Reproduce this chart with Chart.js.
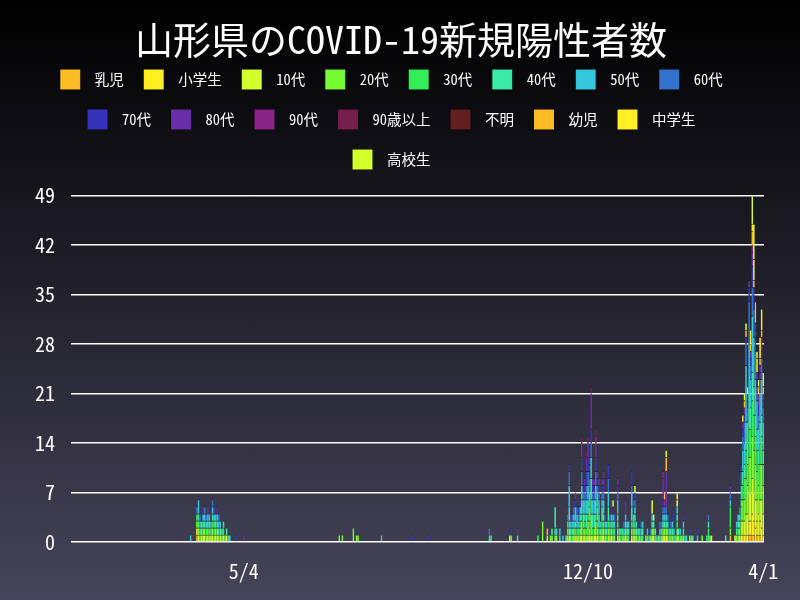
<!DOCTYPE html>
<html>
<head>
  <title>山形県のCOVID-19新規陽性者数</title>
  <style>
    body {
      margin: 0;
      padding: 0;
      background: linear-gradient(to bottom, #000000, #46445a);
    }

    #wrap {
      width: 800px;
      height: 600px;
    }
  </style>
</head>
<body>

  <div id="wrap">
    <canvas id="graph"></canvas>
  </div>

  <script src="https://cdn.jsdelivr.net/npm/chart.js"></script>
  <script>
    // days run from 2020-01-15 to 2021-04-01, one bar per day
    const startDate = new Date(2020, 0, 15);
    const dayCount = 443;
    const shownTicks = ['2020-05-04', '2020-12-10', '2021-04-01'];

    const seriesNames = ['乳児', '小学生', '10代', '20代', '30代', '40代', '50代', '60代',
      '70代', '80代', '90代', '90歳以上', '不明', '幼児', '中学生', '高校生'];
    const seriesColors = ['#ffbb22', '#ffee22', '#d5ff2a', '#77fc33', '#33ee55', '#3ceaa8',
      '#33c8dd', '#3372cc', '#3633bb', '#6a2eaa', '#8a2488', '#761f4e', '#641f1f',
      '#ffbb22', '#ffee22', '#d5ff2a'];

    // [day index, new cases]
    const infant = [[80,1],[421,1],[433,1],[434,1],[435,1],[436,1],[438,1],[440,1]];
    const elementary = [[80,1],[429,1],[430,1],[431,1],[432,1],[433,2],[434,2],[435,3],[436,2],[437,2],[438,2],[439,1],[440,2],[441,2],[442,1]];
    const teens = [[81,1],[83,1],[84,1],[85,1],[87,1],[89,1],[90,1],[92,1],[93,1],[95,1],[97,1],[99,1],[280,1],
      [304,1],[318,1],[321,1],[323,1],[325,1],[326,1],[328,1],[330,1],[331,1],[332,1],[334,1],[335,1],[336,1],
      [339,1],[340,1],[343,1],[345,1],[349,1],[354,1],[358,1],[360,1],[371,1],[372,1],[378,1],[379,1],[380,1],[387,1],
      [424,1],[427,1],[428,1],[429,2],[430,2],[431,3],[432,3],[433,4],[434,4],[435,5],[436,4],[437,4],[438,3],[439,3],[440,3],[441,4],[442,3]];
    const twenties = [[80,1],[81,1],[82,1],[83,1],[84,1],[85,1],[86,1],[87,1],[88,1],[90,1],[91,1],[92,1],[93,1],[94,1],[96,1],[98,1],
      [171,1],[173,1],[180,2],[182,1],[183,1],
      [301,3],[306,1],[307,1],[309,1],[310,1],[317,1],[318,1],[319,1],[321,1],[322,1],[324,1],[325,1],[326,2],[327,1],[328,1],
      [329,1],[330,2],[331,1],[332,3],[333,1],[334,1],[335,2],[336,1],[337,1],[338,1],[339,1],[340,1],[341,1],[343,1],[344,1],
      [345,1],[346,1],[347,1],[349,1],[350,1],[352,1],[353,1],[354,1],[355,1],[358,1],[359,1],[360,1],[361,1],[363,1],[367,1],
      [370,1],[371,1],[372,1],[375,1],[378,1],[379,1],[380,1],[381,1],[383,1],[384,1],[387,1],[388,1],[390,1],[391,1],[395,1],
      [403,1],[408,1],
      [421,1],[425,1],[426,1],[427,1],[428,2],[429,3],[430,3],[431,5],[432,4],[433,5],[434,5],[435,6],[436,6],[437,5],[438,4],[439,4],[440,5],[441,5],[442,4]];
    const thirties = [[80,1],[81,1],[84,1],[86,1],[88,1],[90,1],[91,1],[93,1],[97,1],[267,1],
      [298,1],[309,1],[318,1],[320,1],[322,1],[323,1],[325,1],[326,1],[327,1],[328,1],[329,1],[330,1],[331,1],[332,2],[333,1],
      [335,1],[336,1],[337,1],[339,1],[340,1],[342,1],[343,1],[345,1],[346,1],[349,1],[351,1],[356,1],[358,1],[360,1],[362,1],
      [365,1],[373,1],[382,1],[386,1],[387,1],[389,1],[396,1],[407,2],
      [421,3],[426,1],[428,2],[429,2],[430,3],[431,4],[432,3],[433,4],[434,4],[435,5],[436,5],[437,4],[438,3],[439,3],[440,3],[441,4],[442,3]];
    const forties = [[81,1],[82,1],[83,1],[85,1],[87,1],[88,1],[89,1],[90,1],[91,1],[92,1],[94,1],[95,1],[96,1],[97,1],[99,1],[101,1],
      [268,1],[281,1],[285,1],
      [307,1],[309,3],[312,1],[316,1],[317,1],[318,2],[319,1],[320,1],[321,1],[322,1],[324,1],[325,1],[326,2],[327,2],[328,1],
      [329,2],[330,2],[331,2],[332,3],[333,2],[334,2],[335,2],[336,2],[337,2],[338,1],[339,2],[340,1],[341,1],[342,1],[343,2],
      [344,1],[346,1],[347,1],[349,1],[351,1],[352,1],[354,1],[355,1],[356,1],[358,2],[359,1],[360,1],[361,1],[362,1],[364,1],
      [365,1],[368,1],[371,1],[372,1],[373,1],[376,1],[377,1],[378,1],[379,1],[380,1],[381,1],[383,1],[384,1],[385,1],[387,1],
      [388,1],[391,1],[393,1],[397,1],[406,1],[407,1],
      [418,1],[425,1],[426,1],[427,1],[428,1],[429,2],[430,2],[431,4],[432,3],[433,5],[434,3],[435,4],[436,4],[437,3],[438,3],[439,2],[440,3],[441,3],[442,2]];
    const fifties = [[76,1],[81,2],[82,1],[84,1],[85,1],[86,1],[87,1],[88,1],[89,1],[90,1],[91,1],[92,1],[93,1],[94,1],[95,1],[100,1],
      [198,1],
      [310,1],[312,1],[314,1],[317,1],[318,3],[319,1],[320,1],[321,1],[322,2],[323,2],[324,1],[325,1],[326,2],[327,2],[328,2],
      [329,2],[330,2],[331,2],[332,3],[333,2],[334,2],[335,2],[336,2],[337,2],[338,1],[339,1],[340,2],[341,1],[342,1],[343,2],
      [344,1],[345,1],[346,1],[347,1],[349,2],[350,1],[353,1],[354,1],[355,1],[356,1],[358,2],[359,2],[360,1],[361,1],[363,1],
      [364,1],[365,1],[368,1],[369,1],[371,1],[374,1],[376,1],[377,1],[378,1],[379,1],[380,1],[381,1],[382,1],[384,1],[385,1],
      [387,1],[389,1],[391,1],[392,1],[400,1],
      [421,1],[425,1],[426,1],[427,1],[428,2],[429,3],[430,3],[431,8],[432,3],[433,7],[434,4],[435,8],[436,7],[437,5],[438,4],[439,3],[440,4],[441,5],[442,4]];
    const sixties = [[80,1],[82,1],[85,1],[86,1],[90,1],[94,1],[267,1],
      [317,1],[318,2],[320,1],[321,1],[323,1],[324,1],[326,2],[327,1],[328,1],[329,2],[330,2],[331,2],[332,2],[333,1],[334,1],
      [335,2],[336,1],[337,1],[339,1],[340,1],[343,2],[344,1],[347,1],[349,1],[353,1],[358,1],[360,1],[364,1],[370,1],[376,1],
      [377,1],[378,1],[379,1],[380,1],[381,1],[383,1],[407,1],
      [421,1],[427,1],[428,2],[429,2],[430,3],[431,3],[432,2],[433,6],[434,2],[435,4],[436,4],[437,4],[438,2],[439,2],[440,2],[441,3],[442,2]];
    const seventies = [[93,1],[105,1],[218,1],[228,1],[281,1],
      [317,1],[318,1],[321,1],[322,1],[324,1],[325,1],[326,2],[327,1],[328,1],[329,2],[330,2],[331,1],[332,2],[333,1],[334,1],
      [335,2],[336,1],[337,1],[339,1],[340,1],[343,2],[345,1],[349,1],[358,2],[359,1],[360,1],[378,1],[384,1],[391,1],[396,1],[400,1],
      [428,1],[429,1],[430,1],[431,1],[432,1],[433,2],[434,1],[435,3],[436,2],[437,2],[438,1],[439,1],[440,1],[441,1],[442,1]];
    const eighties = [[84,1],[87,1],[91,1],[110,1],[285,1],
      [319,1],[322,1],[326,2],[328,1],[329,2],[330,2],[331,1],[332,5],[333,1],[334,1],[335,2],[336,1],[337,1],[339,1],[340,1],
      [341,1],[345,1],[349,1],[354,2],[359,1],[378,3],[380,5],
      [421,1],[429,1],[430,1],[432,1],[433,1],[434,1],[435,2],[436,1],[437,1],[438,1],[439,1],[440,1],[441,1],[442,1]];
    const nineties = [[331,1],[335,1],[340,1],[378,1],[379,1],[435,1],[437,1],[439,1],[441,1]];
    const over90 = [[326,1],[329,1],[330,1],[332,1],[335,1],[346,1]];
    const unknown = [];
    const toddler = [[304,1],[379,1],[380,2],[430,1],[431,1],[434,1],[435,2],[436,1],[437,3],[439,1],[440,1],[441,1],[442,1]];
    const juniorHigh = [[387,1],[409,1],[429,1],[432,1],[434,2],[435,1],[436,3],[438,2],[439,1],[440,3],[441,3],[442,2]];
    const highSchool = [[346,1],[360,1],[371,2],[372,1],[380,1],[387,1],[430,1],[431,1],[435,4],[436,5],[438,1]];

    const seriesData = [infant, elementary, teens, twenties, thirties, forties, fifties, sixties,
      seventies, eighties, nineties, over90, unknown, toddler, juniorHigh, highSchool];

    // category labels (M/D) and the full date of each bar
    const labels = [];
    const isoDates = [];
    for (let i = 0; i < dayCount; i++) {
      const d = new Date(startDate.getFullYear(), startDate.getMonth(), startDate.getDate() + i);
      const m = d.getMonth() + 1;
      const day = d.getDate();
      labels.push(m + '/' + day);
      isoDates.push(d.getFullYear() + '-' + String(m).padStart(2, '0') + '-' + String(day).padStart(2, '0'));
    }

    const datasets = seriesNames.map((name, s) => {
      const values = new Array(dayCount).fill(null);
      seriesData[s].forEach(([day, n]) => { values[day] = n; });
      return {
        label: name,
        data: values,
        backgroundColor: seriesColors[s],
        borderColor: 'rgba(0, 0, 0, 0.35)',
        borderWidth: { top: 1, bottom: 0, left: 0, right: 0 },
        categoryPercentage: 1,
        barPercentage: 1
      };
    });

    // leave a gap under the legend
    const legendGap = {
      id: 'legendGap',
      beforeInit(chart) {
        const fit = chart.legend.fit;
        chart.legend.fit = function () {
          fit.bind(chart.legend)();
          this.height += 16;
        };
      }
    };

    Chart.defaults.font.family = "'Noto Sans Mono CJK JP', 'Noto Sans CJK JP', monospace";
    Chart.defaults.color = '#ffffff';

    const ctx = document.getElementById('graph').getContext('2d');
    new Chart(ctx, {
      type: 'bar',
      data: { labels: labels, datasets: datasets },
      plugins: [legendGap],
      options: {
        responsive: true,
        maintainAspectRatio: false,
        animation: false,
        layout: { padding: { left: 19, right: 36, bottom: 0, top: 0 } },
        plugins: {
          title: {
            display: true,
            text: ' 山形県のCOVID-19新規陽性者数',
            color: '#ffffff',
            font: { size: 38, weight: 'normal' },
            padding: { top: 17, bottom: -13 }
          },
          legend: {
            labels: {
              color: '#ffffff',
              font: { size: 14.5 },
              boxWidth: 20,
              boxHeight: 20,
              padding: 20,
              generateLabels: (chart) => Chart.defaults.plugins.legend.labels.generateLabels(chart)
                .map(item => Object.assign(item, { text: ' ' + item.text }))
            }
          },
          tooltip: { enabled: false }
        },
        scales: {
          x: {
            stacked: true,
            grid: { display: false, drawTicks: false },
            border: { display: false },
            ticks: {
              autoSkip: false,
              maxRotation: 0,
              padding: 17,
              font: { size: 20 },
              color: '#ffffff',
              callback: function (value) {
                return shownTicks.includes(isoDates[value]) ? labels[value] : '';
              }
            }
          },
          y: {
            stacked: true,
            min: 0,
            max: 49,
            grid: { color: '#ffffff', lineWidth: 1.5, drawTicks: false },
            border: { display: false },
            ticks: {
              stepSize: 7,
              padding: 16,
              font: { size: 20 },
              color: '#ffffff'
            }
          }
        }
      }
    });
  </script>
</body>
</html>
